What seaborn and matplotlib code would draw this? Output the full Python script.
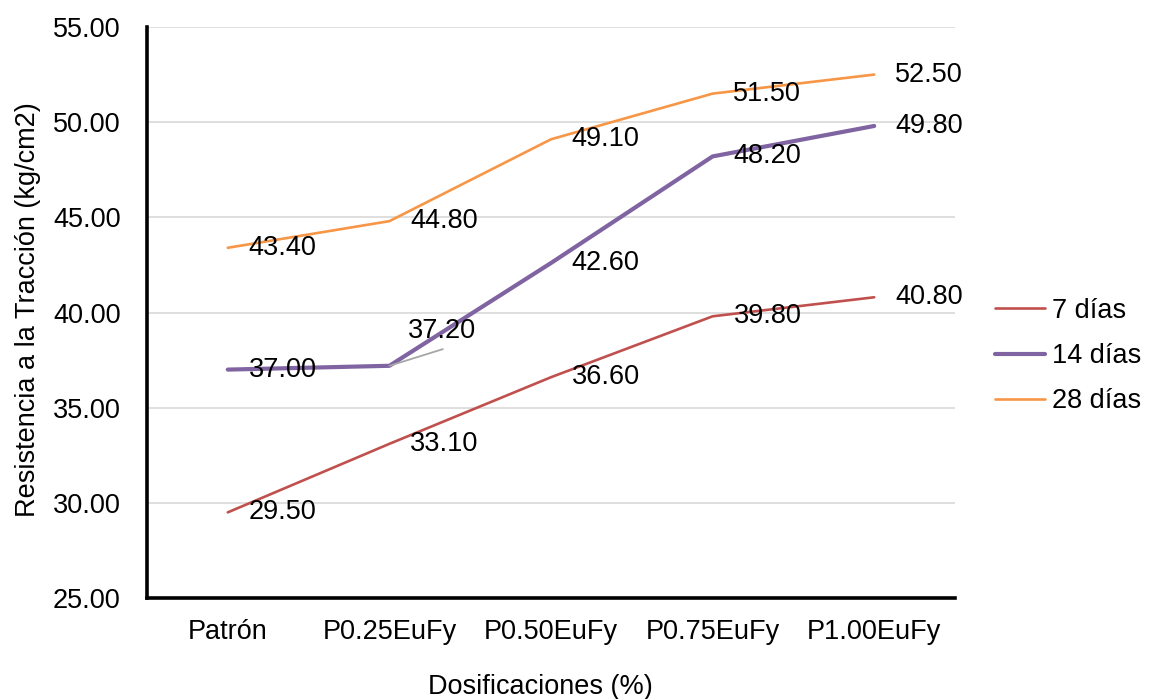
import matplotlib
matplotlib.use("Agg")
import matplotlib.pyplot as plt
import seaborn as sns
import pandas as pd

categories = ["Patrón", "P0.25EuFy", "P0.50EuFy", "P0.75EuFy", "P1.00EuFy"]
dias_7 = [29.50, 33.10, 36.60, 39.80, 40.80]
dias_14 = [37.00, 37.20, 42.60, 48.20, 49.80]
dias_28 = [43.40, 44.80, 49.10, 51.50, 52.50]
series_names = ["7 días", "14 días", "28 días"]
y_ticks = [25, 30, 35, 40, 45, 50, 55]

sns.set_theme(style="white")
plt.rcParams["font.family"] = ["Liberation Sans", "DejaVu Sans"]
FS = 19.5

frames = []
for name, vals in zip(series_names, [dias_7, dias_14, dias_28]):
    frames.append(pd.DataFrame({"Dosificación": categories, "Resistencia": vals, "Serie": name}))
df = pd.concat(frames, ignore_index=True)

colors = {"7 días": "#C0504D", "14 días": "#8064A2", "28 días": "#F79646"}
widths = {"7 días": 1.9, "14 días": 3.0, "28 días": 1.9}

fig = plt.figure(figsize=(11.52, 6.99), dpi=100)
ax = fig.add_axes([147 / 1152, 1 - 598 / 699, 808 / 1152, 571 / 699])

for name in series_names:
    sub = df[df["Serie"] == name]
    sns.lineplot(data=sub, x="Dosificación", y="Resistencia", ax=ax, sort=False,
                 color=colors[name], linewidth=widths[name], label=name, zorder=3)

# value labels to the right of each point
for name in series_names:
    sub = df[df["Serie"] == name].reset_index(drop=True)
    for i, row in sub.iterrows():
        txt = f"{row['Resistencia']:.2f}"
        if name == "14 días" and i == 1:
            ax.annotate(txt, xy=(i, row["Resistencia"]), xytext=(13, 25),
                        textcoords="offset points", ha="left", va="center",
                        fontsize=FS, color="black", zorder=5)
            ax.annotate("", xy=(i, row["Resistencia"]), xytext=(38.5, 12),
                        textcoords="offset points",
                        arrowprops=dict(arrowstyle="-", color="#A6A6A6", lw=1.3,
                                        shrinkA=0, shrinkB=0), zorder=4)
        else:
            ax.annotate(txt, xy=(i, row["Resistencia"]), xytext=(15, 0),
                        textcoords="offset points", ha="left", va="center",
                        fontsize=FS, color="black", zorder=5)

ax.set_xlim(-0.5, 4.5)
ax.set_ylim(25, 55)
ax.set_yticks(y_ticks)
ax.set_yticklabels([f"{v:.2f}" for v in y_ticks])
ax.tick_params(axis="y", length=0, pad=19, labelsize=FS, labelcolor="black")
ax.tick_params(axis="x", length=0, pad=15, labelsize=FS, labelcolor="black")

ax.grid(axis="y", color="#D9D9D9", linewidth=1.2, zorder=0)
ax.grid(axis="x", visible=False)
for side in ["top", "right"]:
    ax.spines[side].set_visible(False)
for side in ["left", "bottom"]:
    ax.spines[side].set_color("black")
    ax.spines[side].set_linewidth(2.6)
    ax.spines[side].set_zorder(6)

ax.set_xlabel("")
ax.set_ylabel("")
fig.text(540 / 1152, 1 - 687 / 699, "Dosificaciones (%)", ha="center", va="center",
         fontsize=FS, color="black")
fig.text(28 / 1152, 1 - 310 / 699, "Resistencia a la Tracción (kg/cm2)", rotation=90,
         ha="center", va="center", fontsize=FS, color="black")

leg = ax.legend(loc="center left", bbox_to_anchor=(995 / 1152, 1 - 356 / 699),
                bbox_transform=fig.transFigure, frameon=False, fontsize=FS,
                handlelength=1.85, handletextpad=0.25, labelspacing=0.72,
                borderpad=0, borderaxespad=0)
for t in leg.get_texts():
    t.set_color("black")

fig.savefig("out.png", dpi=100, facecolor="white")
